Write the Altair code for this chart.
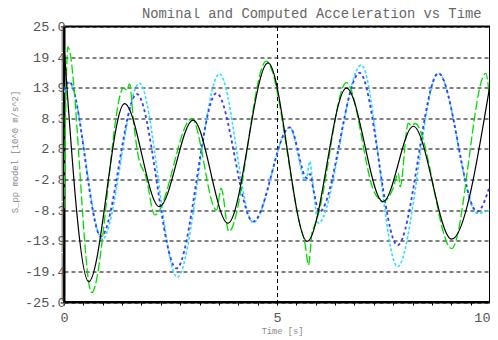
import altair as alt
import pandas as pd

# ---- data ----
black_t = [0.0, 0.58, 1.42, 2.24, 3.03, 3.85, 4.79, 5.71, 6.63, 7.49, 8.20, 9.10, 10.0]
black_v = [21.5, -21.3, 11.0, -7.7, 8.0, -10.7, 18.4, -14.0, 13.8, -6.8, 6.9, -13.6, 14.4]

green_t = [0.0, 0.04, 0.09, 0.65, 1.40, 1.47, 1.54, 1.63, 1.73, 1.93, 2.13, 3.00, 3.58, 3.69, 3.87,
           4.75, 5.55, 5.66, 5.74, 5.82, 5.88, 5.95, 6.63, 7.30, 7.49, 7.72, 7.85, 7.89, 8.08, 8.16,
           8.24, 9.10, 9.90, 9.98]
green_v = [-8.0, 10.0, 21.3, -23.3, 13.8, 13.5, 14.6, 8.0, 2.0, -2.5, -9.2, 8.3, -8.3, -4.4, -12.2,
           18.7, -11.3, -14.5, -18.3, -12.5, -11.2, -9.6, 14.8, -5.3, -6.8, -4.5, -1.6, -4.1, 7.4, 7.0,
           7.4, -15.3, 16.5, 12.9]

blue_t = [0.0, 0.12, 0.87, 1.71, 2.64, 3.58, 4.44, 5.30, 5.70, 5.78, 5.85, 6.00, 6.94, 7.83, 8.79, 9.70, 10.0]
blue_v = [13.5, 15.0, -13.1, 12.75, -18.9, 12.9, -10.4, 6.7, -2.5, -1.8, -4.5, -8.6, 16.6, -14.7, 16.5, -8.6, -3.8]

cyan_t = [0.0, 0.12, 0.90, 1.77, 2.66, 3.65, 4.44, 5.30, 5.68, 5.77, 5.84, 5.97, 6.98, 7.83, 8.79, 9.70, 10.0]
cyan_v = [13.0, 14.8, -13.6, 14.7, -20.5, 16.4, -10.6, 6.7, -3.0, 0.5, -3.5, -10.7, 18.0, -18.6, 16.5, -8.9, -8.3]

y_tick_values = [25.0, 19.444, 13.889, 8.333, 2.778, -2.778, -8.333, -13.889, -19.444, -25.0]
y_tick_labels = ["25.0", "19.4", "13.9", "8.3", "2.8", "-2.8", "-8.3", "-13.9", "-19.4", "-25.0"]
x_tick_values = [0, 5, 10]
x_tick_labels = ["0", "5", "10"]
x_grid_values = [5]

title_text = "Nominal and Computed Acceleration vs Time"
x_title = "Time [s]"
y_title = "S_pp model [10^0 m/s^2]"

# ---- table ----
rows = []
for name, ts, vs in [("cyan", cyan_t, cyan_v), ("blue", blue_t, blue_v),
                     ("green", green_t, green_v), ("black", black_t, black_v)]:
    for t, v in zip(ts, vs):
        rows.append({"t": t, "v": v, "s": name})
df = pd.DataFrame(rows)

MONO = "Liberation Mono"

x_minor = [i * 10 / 22 for i in range(23)]
y_minor = [25 - i * 50 / 135 for i in range(136)]


def label_expr(values, labels):
    expr = "''"
    for v, l in reversed(list(zip(values, labels))):
        expr = f"abs(datum.value - ({v})) < 0.05 ? '{l}' : " + expr
    return expr


def grid_test(values):
    return " || ".join(f"abs(datum.value - ({v})) < 0.05" for v in values)


x_axis = alt.Axis(
    values=x_minor, labelExpr=label_expr(x_tick_values, x_tick_labels),
    grid=True, gridColor="black", gridDash=[4, 3], gridWidth=1,
    gridOpacity={"condition": {"test": grid_test(x_grid_values), "value": 1}, "value": 0},
    tickSize=3, tickColor="black", domainColor="black", domainWidth=2,
    labelFont=MONO, labelFontSize=13.5, labelColor="#555", labelPadding=5,
    labelAlign={"condition": {"test": "datum.value > 9.9", "value": "right"}, "value": "center"},
    labelOverlap=False, labelFlush=False, labelBound=False,
    title=x_title, titleFont=MONO, titleFontSize=8.7, titleFontWeight="normal",
    titleColor="#888", titleX=218, titleY=31, titleAlign="center", titleBaseline="alphabetic",
)
y_axis = alt.Axis(
    values=y_minor, labelExpr=label_expr(y_tick_values, y_tick_labels),
    grid=True, gridColor="black", gridDash=[4, 3], gridWidth=1,
    gridOpacity={"condition": {"test": grid_test(y_tick_values), "value": 1}, "value": 0},
    tickSize=3, tickColor="#333", domainColor="black", domainWidth=2,
    labelFont=MONO, labelFontSize=13.5, labelColor="#555", labelPadding=-4,
    labelOverlap=False, labelFlush=False, labelBound=False, labelBaseline="middle",
    title=y_title, titleFont=MONO, titleFontSize=8.9, titleFontWeight="normal",
    titleColor="#888", titleX=-50, titleY=125, titleAngle=270,
    titleAlign="center", titleBaseline="middle",
)

base = alt.Chart(df).encode(
    x=alt.X("t:Q", scale=alt.Scale(domain=[0, 10], nice=False, zero=False), axis=x_axis),
    y=alt.Y("v:Q", scale=alt.Scale(domain=[-25, 25], nice=False, zero=False), axis=y_axis),
)

styles = {
    "cyan": dict(color="#33ddff", strokeWidth=1.6, strokeDash=[3, 2]),
    "blue": dict(color="#3a3aff", strokeWidth=1.8, strokeDash=[3, 3]),
    "green": dict(color="#00dd00", strokeWidth=1.3, strokeDash=[9, 3]),
    "black": dict(color="black", strokeWidth=1.2),
}

layers = []
for name in ["cyan", "blue", "green", "black"]:
    layers.append(
        base.transform_filter(alt.datum.s == name).mark_line(
            interpolate="monotone", clip=True, **styles[name]
        )
    )

chart = alt.layer(*layers).properties(
    width=426, height=275.5,
    title=alt.TitleParams(title_text, anchor="end", font=MONO, fontSize=13.8,
                          fontWeight="normal", color="#666", offset=-1, dx=-9),
    autosize=alt.AutoSizeParams(type="none"),
    padding={"left": 56, "top": 18.5, "right": 0, "bottom": 33.5},
).configure_view(stroke="black", strokeWidth=2)

chart.save("out.html", embed_options={"renderer": "svg", "actions": False})
